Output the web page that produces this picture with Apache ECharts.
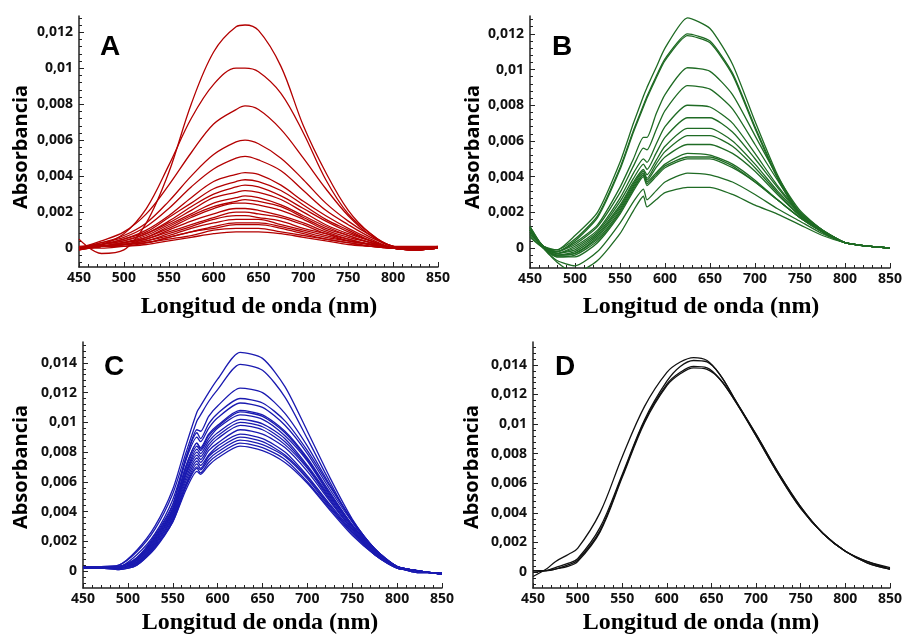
<!DOCTYPE html>
<html><head><meta charset="utf-8">
<script src="https://cdn.jsdelivr.net/npm/echarts@6/dist/echarts.min.js"></script>
<style>html,body{margin:0;padding:0;background:#fff}#c{width:905px;height:635px}</style>
</head><body><div id="c"></div>
<script>
// ---------------- DATA ----------------
const xTicks = [450, 500, 550, 600, 650, 700, 750, 800, 850];
const yTicksAB = [0, 0.002, 0.004, 0.006, 0.008, 0.01, 0.012];
const yTicksCD = [0, 0.002, 0.004, 0.006, 0.008, 0.01, 0.012, 0.014];

const wavelengthsA = [450, 475, 500, 525, 550, 575, 600, 625, 635, 650, 675, 700, 725, 750, 775, 800, 825, 850];
const curvesA = [
  [.0005, -.0003, -.0001, .0014, .0042, .0080, .0109, .0123, .0124, .0121, .0101, .0068, .0042, .0021, .0008, .0001, .0000, .0001],
  [.0000, .0002, .0008, .0022, .0046, .0072, .0091, .0100, .0100, .0098, .0086, .0064, .0038, .0019, .0008, .0001, .0001, .0001],
  [.0000, .0004, .0009, .0019, .0035, .0053, .0069, .0077, .0079, .0077, .0066, .0050, .0033, .0018, .0007, .0001, .0000, .0000],
  [.0000, .0003, .0007, .0014, .0026, .0040, .0052, .0059, .0060, .0058, .0050, .0038, .0025, .0015, .0007, .0001, .0000, .0000],
  [.0000, .0003, .0006, .0012, .0022, .0034, .0044, .0050, .0051, .0049, .0043, .0032, .0021, .0013, .0006, .0001, .0000, .0000],
  [.0000, .0002, .0005, .0010, .0018, .0028, .0037, .0041, .0042, .0041, .0035, .0026, .0018, .0011, .0005, .0000, -.0001, .0000],
  [.0001, .0002, .0005, .0009, .0017, .0025, .0033, .0037, .0038, .0037, .0032, .0024, .0016, .0010, .0004, .0000, -.0001, .0000],
  [.0000, .0002, .0004, .0008, .0015, .0023, .0030, .0034, .0035, .0034, .0029, .0022, .0015, .0009, .0004, .0000, -.0001, .0000],
  [.0000, .0002, .0004, .0008, .0014, .0021, .0028, .0031, .0032, .0031, .0027, .0020, .0013, .0008, .0004, .0000, -.0001, .0000],
  [-.0001, .0001, .0003, .0007, .0013, .0019, .0025, .0028, .0029, .0028, .0024, .0018, .0012, .0007, .0003, .0000, -.0001, .0000],
  [.0000, .0001, .0003, .0006, .0012, .0018, .0023, .0026, .0027, .0026, .0023, .0017, .0011, .0007, .0003, .0000, -.0001, .0000],
  [.0000, .0001, .0003, .0006, .0011, .0017, .0022, .0025, .0025, .0024, .0021, .0016, .0010, .0006, .0003, .0000, -.0001, .0000],
  [-.0001, .0001, .0003, .0005, .0010, .0015, .0019, .0022, .0022, .0021, .0018, .0014, .0009, .0005, .0002, .0000, -.0001, .0000],
  [.0000, .0001, .0002, .0005, .0009, .0013, .0017, .0020, .0020, .0019, .0017, .0013, .0008, .0005, .0002, .0000, .0000, .0000],
  [.0000, .0001, .0002, .0004, .0008, .0012, .0016, .0018, .0018, .0017, .0015, .0011, .0008, .0004, .0002, .0000, .0000, .0000],
  [-.0001, .0001, .0002, .0004, .0007, .0011, .0014, .0016, .0016, .0016, .0013, .0010, .0007, .0004, .0002, .0000, .0000, .0000],
  [.0000, .0001, .0002, .0003, .0006, .0009, .0012, .0014, .0014, .0014, .0012, .0009, .0006, .0004, .0002, .0000, .0000, .0000],
  [.0000, .0001, .0002, .0003, .0006, .0009, .0011, .0013, .0013, .0013, .0011, .0008, .0005, .0003, .0001, .0000, .0000, .0000],
  [.0000, .0001, .0001, .0003, .0005, .0007, .0010, .0011, .0011, .0011, .0009, .0007, .0005, .0003, .0001, .0000, .0000, .0000],
  [.0000, .0000, .0001, .0002, .0004, .0006, .0008, .0009, .0009, .0009, .0008, .0006, .0004, .0002, .0001, .0000, .0000, .0000]
];

const wavelengthsB = [450, 465, 480, 500, 525, 550, 565, 576, 580, 590, 600, 625, 650, 675, 700, 725, 750, 775, 800, 825, 850];
const curvesB = [
  [.0006, .0000, -.0001, .0007, .0020, .0048, .0070, .0085, .0090, .0101, .0112, .0129, .0123, .0103, .0071, .0041, .0019, .0009, .0003, .0001, .0000],
  [.0008, .0001, -.0001, .0005, .0018, .0045, .0066, .0080, .0085, .0096, .0106, .0120, .0116, .0098, .0068, .0040, .0019, .0009, .0003, .0001, .0000],
  [.0007, .0000, -.0002, .0004, .0017, .0044, .0065, .0079, .0084, .0095, .0105, .0119, .0115, .0097, .0067, .0039, .0018, .0009, .0003, .0001, .0000],
  [.0009, .0001, -.0002, .0003, .0013, .0034, .0050, .0062, .0062, .0075, .0086, .0101, .0099, .0086, .0063, .0040, .0021, .0010, .0003, .0001, .0000],
  [.0009, .0001, -.0002, .0002, .0012, .0031, .0046, .0056, .0055, .0066, .0077, .0091, .0089, .0078, .0058, .0038, .0020, .0010, .0003, .0001, .0000],
  [.0010, .0001, -.0003, .0001, .0010, .0028, .0042, .0050, .0048, .0058, .0068, .0080, .0079, .0070, .0053, .0035, .0020, .0010, .0003, .0001, .0000],
  [.0010, .0001, -.0003, .0000, .0009, .0026, .0039, .0047, .0044, .0053, .0062, .0073, .0073, .0065, .0050, .0034, .0019, .0010, .0003, .0001, .0000],
  [.0010, .0000, -.0003, -.0001, .0008, .0024, .0037, .0044, .0041, .0049, .0057, .0067, .0067, .0060, .0047, .0032, .0019, .0010, .0003, .0001, .0000],
  [.0010, .0000, -.0004, -.0002, .0007, .0023, .0036, .0043, .0039, .0047, .0054, .0063, .0063, .0057, .0045, .0031, .0018, .0009, .0003, .0001, .0000],
  [.0010, .0000, -.0004, -.0003, .0006, .0022, .0035, .0042, .0038, .0045, .0051, .0058, .0058, .0053, .0043, .0030, .0018, .0009, .0003, .0001, .0000],
  [.0010, .0000, -.0004, -.0003, .0005, .0021, .0034, .0041, .0037, .0042, .0047, .0053, .0052, .0047, .0038, .0027, .0017, .0009, .0003, .0001, .0000],
  [.0011, .0000, -.0005, -.0004, .0004, .0020, .0033, .0041, .0036, .0041, .0046, .0051, .0051, .0046, .0037, .0027, .0017, .0009, .0003, .0001, .0000],
  [.0011, .0000, -.0005, -.0005, .0003, .0019, .0032, .0040, .0035, .0040, .0045, .0050, .0050, .0045, .0037, .0027, .0017, .0009, .0003, .0001, .0000],
  [.0012, .0000, -.0007, -.0010, -.0002, .0014, .0026, .0033, .0027, .0032, .0037, .0042, .0041, .0037, .0030, .0022, .0015, .0008, .0003, .0001, .0000],
  [.0012, .0000, -.0008, -.0014, -.0007, .0008, .0021, .0029, .0023, .0027, .0031, .0034, .0034, .0030, .0024, .0019, .0013, .0007, .0003, .0001, .0000]
];

const wavelengthsC = [450, 470, 490, 510, 530, 550, 565, 577, 581, 590, 600, 625, 650, 675, 700, 725, 750, 775, 800, 825, 850];
const curvesC = [
  [.0003, .0003, .0004, .0014, .0030, .0055, .0085, .0107, .0111, .0120, .0129, .0147, .0143, .0124, .0094, .0063, .0035, .0015, .0003, -.0001, -.0001],
  [.0003, .0003, .0004, .0013, .0028, .0052, .0080, .0101, .0105, .0114, .0122, .0139, .0135, .0117, .0089, .0060, .0033, .0014, .0003, -.0001, -.0001],
  [.0003, .0003, .0003, .0011, .0025, .0048, .0076, .0095, .0094, .0104, .0111, .0123, .0120, .0106, .0084, .0058, .0034, .0015, .0003, -.0001, -.0001],
  [.0003, .0003, .0003, .0009, .0024, .0045, .0077, .0093, .0089, .0099, .0106, .0116, .0113, .0101, .0081, .0057, .0034, .0015, .0003, .0000, -.0002],
  [.0003, .0003, .0003, .0009, .0023, .0044, .0075, .0090, .0087, .0096, .0103, .0113, .0110, .0098, .0079, .0055, .0033, .0015, .0003, .0000, -.0002],
  [.0002, .0003, .0003, .0008, .0022, .0042, .0071, .0086, .0083, .0092, .0098, .0108, .0105, .0094, .0076, .0053, .0031, .0014, .0003, .0000, -.0002],
  [.0002, .0002, .0003, .0008, .0022, .0042, .0071, .0086, .0082, .0091, .0097, .0107, .0104, .0093, .0075, .0052, .0031, .0014, .0003, .0000, -.0002],
  [.0003, .0003, .0003, .0008, .0021, .0041, .0069, .0084, .0081, .0089, .0096, .0105, .0102, .0091, .0074, .0051, .0030, .0014, .0003, .0000, -.0002],
  [.0002, .0002, .0003, .0007, .0020, .0040, .0067, .0082, .0079, .0087, .0093, .0102, .0099, .0089, .0071, .0050, .0030, .0013, .0003, .0000, -.0002],
  [.0002, .0002, .0002, .0007, .0020, .0039, .0066, .0080, .0077, .0085, .0091, .0100, .0097, .0087, .0070, .0049, .0029, .0013, .0003, .0000, -.0002],
  [.0003, .0003, .0002, .0006, .0019, .0038, .0065, .0078, .0075, .0083, .0089, .0098, .0095, .0085, .0069, .0048, .0028, .0013, .0003, .0000, -.0002],
  [.0002, .0002, .0002, .0006, .0018, .0037, .0063, .0076, .0073, .0081, .0086, .0095, .0092, .0083, .0067, .0047, .0028, .0012, .0003, .0000, -.0002],
  [.0002, .0002, .0002, .0005, .0018, .0036, .0061, .0074, .0071, .0078, .0084, .0092, .0089, .0080, .0064, .0045, .0027, .0012, .0003, .0000, -.0002],
  [.0002, .0002, .0002, .0005, .0017, .0035, .0059, .0072, .0069, .0077, .0082, .0090, .0087, .0078, .0063, .0044, .0026, .0012, .0002, .0000, -.0002],
  [.0002, .0002, .0002, .0005, .0016, .0034, .0058, .0070, .0068, .0075, .0080, .0088, .0085, .0077, .0062, .0043, .0026, .0011, .0002, .0000, -.0002],
  [.0002, .0002, .0001, .0004, .0016, .0033, .0057, .0069, .0066, .0073, .0078, .0086, .0083, .0075, .0060, .0042, .0025, .0011, .0002, .0000, -.0002],
  [.0002, .0002, .0001, .0004, .0015, .0033, .0055, .0067, .0065, .0071, .0076, .0084, .0081, .0073, .0059, .0041, .0024, .0011, .0002, .0000, -.0002]
];

const wavelengthsD = [450, 465, 475, 490, 500, 525, 550, 575, 600, 615, 630, 645, 660, 675, 700, 725, 750, 775, 800, 825, 850];
const curvesD = [
  [-.0003, .0002, .0007, .0012, .0016, .0040, .0078, .0112, .0135, .0142, .0145, .0143, .0133, .0118, .0092, .0066, .0043, .0026, .0014, .0007, .0003],
  [.0000, .0001, .0003, .0006, .0009, .0030, .0066, .0103, .0129, .0139, .0143, .0142, .0133, .0118, .0093, .0067, .0044, .0026, .0014, .0007, .0002],
  [.0001, .0001, .0002, .0005, .0008, .0028, .0065, .0102, .0127, .0135, .0139, .0138, .0130, .0117, .0093, .0067, .0044, .0026, .0014, .0006, .0002],
  [.0001, .0001, .0002, .0004, .0007, .0027, .0064, .0101, .0126, .0134, .0138, .0137, .0130, .0117, .0092, .0066, .0043, .0026, .0014, .0006, .0002]
];

// ---------------- CHART ----------------
const chart = echarts.init(document.getElementById('c'), null, {renderer: 'canvas'});
const LABEL_FONT = {fontFamily: 'Open Sans', fontWeight: 'bold', fontSize: 14, color: '#111'};

const panels = [
  {grid: {left: 79, top: 16, width: 359, height: 251}, x: wavelengthsA, curves: curvesA, color: '#b30000', min: -0.00105, max: 0.0129, ticks: yTicksAB, smooth: 0.35},
  {grid: {left: 530, top: 16, width: 361, height: 252}, x: wavelengthsB, curves: curvesB, color: '#1f6b24', min: -0.00112, max: 0.0130, ticks: yTicksAB, smooth: 0.2},
  {grid: {left: 83, top: 342, width: 359, height: 246}, x: wavelengthsC, curves: curvesC, color: '#1a1ab0', min: -0.00114, max: 0.0154, ticks: yTicksCD, smooth: 0.25},
  {grid: {left: 533, top: 342, width: 359, height: 246}, x: wavelengthsD, curves: curvesD, color: '#111111', min: -0.00108, max: 0.01555, ticks: yTicksCD, smooth: 0.35}
];

function fmtY(v) {
  if (Math.abs(v) < 1e-9) return '0';
  return String(parseFloat(v.toFixed(4))).replace('.', ',');
}
function minorTicks(min, max) {
  const out = [];
  const step = 0.0004;
  for (let k = Math.ceil(min / step - 1e-9); k * step <= max + 1e-12; k++) {
    const v = +(k * step).toFixed(6);
    if (Math.abs((v / 0.002) - Math.round(v / 0.002)) > 1e-6) out.push(v);
  }
  return out;
}

const grids = [], xAxes = [], yAxes = [], series = [];
panels.forEach((p, i) => {
  grids.push(Object.assign({containLabel: false}, p.grid));
  xAxes.push({
    type: 'value', gridIndex: i, min: 450, max: 850, interval: 50,
    axisLine: {show: true, onZero: false, lineStyle: {color: '#222', width: 1.5}},
    axisTick: {show: true, inside: true, length: 5, lineStyle: {color: '#222', width: 1}},
    minorTick: {show: true, splitNumber: 5, length: 3, lineStyle: {color: '#222', width: 1}},
    axisLabel: Object.assign({margin: 4, formatter: v => String(v)}, LABEL_FONT),
    splitLine: {show: false}, minorSplitLine: {show: false}
  });
  yAxes.push({
    type: 'value', gridIndex: i, min: p.min, max: p.max, position: 'left',
    axisLine: {show: true, onZero: false, lineStyle: {color: '#222', width: 1.5}},
    axisTick: {show: true, inside: true, length: 5, customValues: p.ticks, lineStyle: {color: '#222', width: 1}},
    axisLabel: Object.assign({margin: 6, customValues: p.ticks, formatter: fmtY}, LABEL_FONT),
    splitLine: {show: false}
  });
  yAxes.push({
    type: 'value', gridIndex: i, min: p.min, max: p.max, position: 'left',
    axisLine: {show: false},
    axisTick: {show: true, inside: true, length: 3, customValues: minorTicks(p.min, p.max), lineStyle: {color: '#222', width: 1}},
    axisLabel: {show: false},
    splitLine: {show: false}
  });
  p.curves.forEach(c => {
    series.push({
      type: 'line', xAxisIndex: i, yAxisIndex: i * 2,
      data: p.x.map((w, k) => [w, c[k]]),
      showSymbol: false, smooth: p.smooth, clip: true, silent: true,
      lineStyle: {color: p.color, width: 1.3}
    });
  });
});

const graphics = [];
const letters = [['A', 100, 47], ['B', 552, 47], ['C', 104, 367], ['D', 555, 367]];
letters.forEach(([t, x, y]) => graphics.push({type: 'text', x: x, y: y, silent: true,
  style: {text: t, font: 'bold 28px "Liberation Sans", Arial, sans-serif', fill: '#000', textAlign: 'left', textVerticalAlign: 'middle'}}));
const yTitles = [[21, 147], [473, 147], [21, 467], [472, 467]];
yTitles.forEach(([x, y]) => graphics.push({type: 'text', x: x, y: y, rotation: Math.PI / 2, silent: true,
  style: {text: 'Absorbancia', font: 'bold 20px "Open Sans", sans-serif', fill: '#000', textAlign: 'center', textVerticalAlign: 'middle'}}));
const xTitles = [[259, 307], [701, 307], [260, 623], [701, 623]];
xTitles.forEach(([x, y]) => graphics.push({type: 'text', x: x, y: y, silent: true,
  style: {text: 'Longitud de onda (nm)', font: 'bold 24px "Liberation Serif", "Times New Roman", serif', fill: '#000', textAlign: 'center', textVerticalAlign: 'middle'}}));

chart.setOption({
  animation: false,
  backgroundColor: '#fff',
  grid: grids, xAxis: xAxes, yAxis: yAxes, series: series,
  graphic: graphics
});
</script></body></html>
